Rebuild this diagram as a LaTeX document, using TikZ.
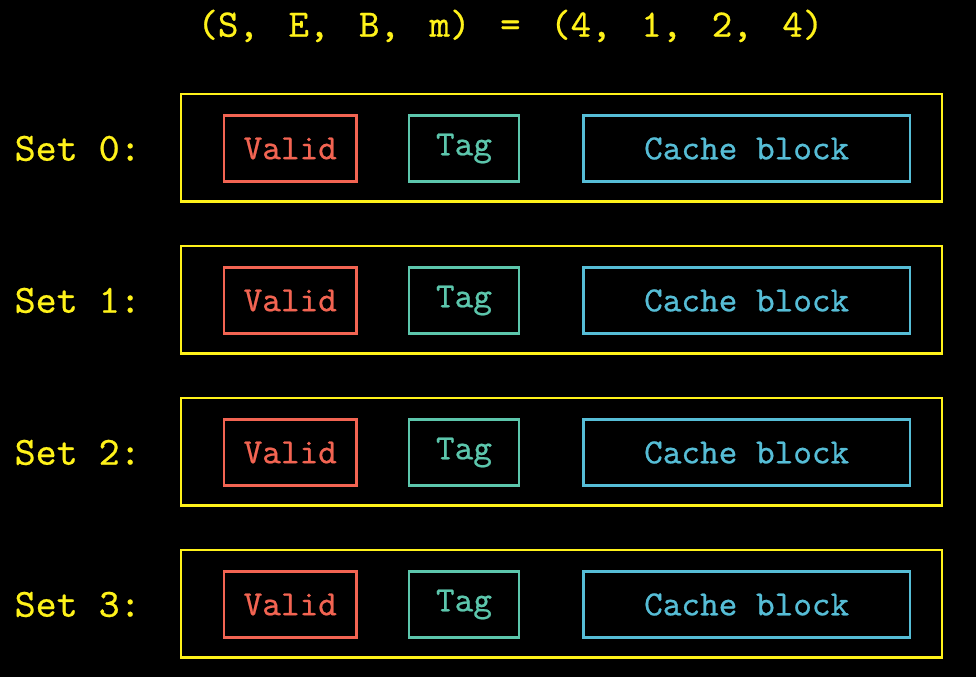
\documentclass[tikz,border=0pt]{standalone}
\usepackage{fontspec}
\setmonofont{lmmono10-regular.otf}[FakeBold=0.6]
\usetikzlibrary{positioning}
\definecolor{myyellow}{HTML}{FFF21A}
\definecolor{myred}{HTML}{F26452}
\definecolor{myteal}{HTML}{5CC6AC}
\definecolor{myblue}{HTML}{56BDD6}
\newcommand\tsp{\hspace*{29.6pt}}
\tikzset{
  setbox/.style={draw=myyellow, line width=2.6pt, minimum width=761pt, minimum height=107.5pt, inner sep=0pt},
  validbox/.style={draw=myred, text=myred, line width=2.6pt, minimum width=132.7pt, minimum height=66pt, inner sep=0pt, font=\fontsize{35.5}{38}\selectfont\ttfamily},
  tagbox/.style={draw=myteal, text=myteal, line width=2.6pt, minimum width=110pt, minimum height=66pt, inner sep=0pt, font=\fontsize{35.5}{38}\selectfont\ttfamily},
  blockbox/.style={draw=myblue, text=myblue, line width=2.6pt, minimum width=326.7pt, minimum height=66pt, inner sep=0pt, font=\fontsize{35.5}{38}\selectfont\ttfamily},
  setlabel/.style={text=myyellow, anchor=base west, inner sep=0pt, font=\fontsize{40}{42}\selectfont\ttfamily},
  titlestyle/.style={text=myyellow, anchor=base, inner sep=0pt, font=\fontsize{39}{41}\selectfont\ttfamily}
}
\begin{document}
\begin{tikzpicture}[x=1pt,y=-1pt]
\fill[black] (0,0) rectangle (976,677);
\useasboundingbox (0,0) rectangle (976,677);
\node[titlestyle] (title) at (510.4,36.7) {(S,\tsp E,\tsp B,\tsp m)\tsp=\tsp(4,\tsp 1,\tsp 2,\tsp 4)};
\foreach \k in {0,1,2,3}{
  \node[setbox] (set\k) at (561.5,{147.75+152*\k}) {};
  \node[setlabel] (lab\k) at (14.5,{160.7+152*\k}) {Set \k:};
  \node[validbox] (valid\k) at (290.3,{148.5+152*\k}) {Valid};
  \node[tagbox] (tag\k) at (464,{148.5+152*\k}) {Tag};
  \node[blockbox] (block\k) at (746.7,{148.5+152*\k}) {Cache block};
}
\end{tikzpicture}
\end{document}
